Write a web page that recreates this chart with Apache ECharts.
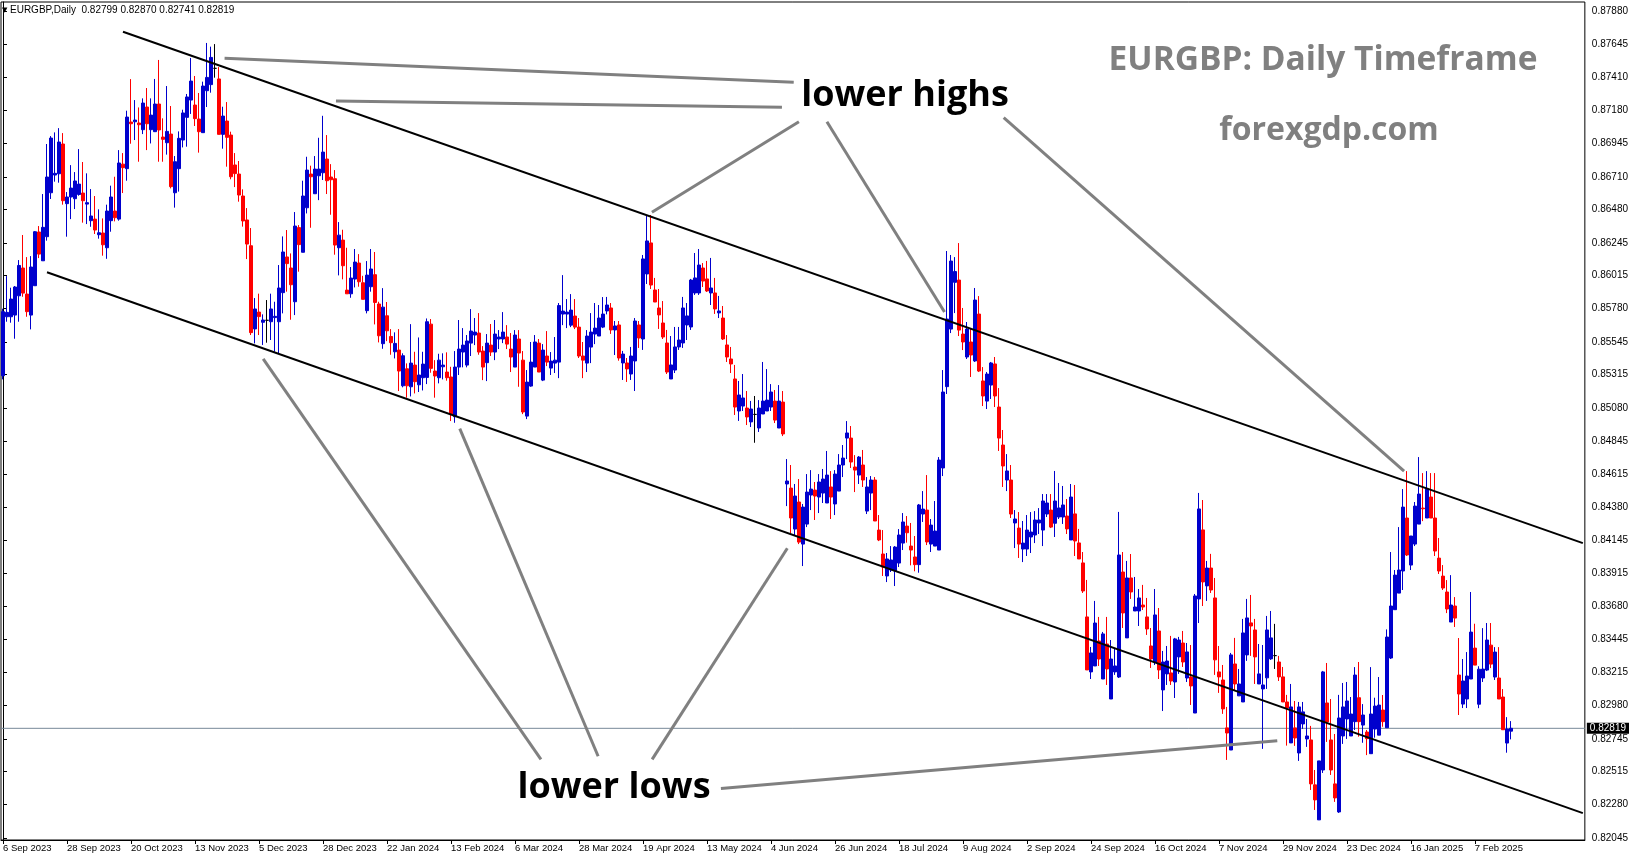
<!DOCTYPE html>
<html><head><meta charset="utf-8">
<script src="https://cdn.jsdelivr.net/npm/echarts@6/dist/echarts.min.js"></script>
<style>html,body{margin:0;padding:0;background:#fff}#c{width:1631px;height:861px}</style>
</head><body><div id="c"></div>
<script>
// ---------------- DATA ----------------
const symbolName = 'EURGBP,Daily';
const firstDate = [2023, 8, 6];           // 6 Sep 2023 (month 0-based)
const holidays = ['12-25', '01-01'];      // broker closed days
const monthNames = ['Jan','Feb','Mar','Apr','May','Jun','Jul','Aug','Sep','Oct','Nov','Dec'];
const slotCount = 396;                    // bars + right chart shift
const labelEvery = 16;

const opens = [
0.85307,0.85723,0.85723,0.85735,0.85871,0.86067,0.85883,0.85735,0.85942,0.86321,
0.86118,0.86288,0.86598,0.86723,0.86732,0.86942,0.86521,0.86568,0.86556,0.86586,
0.86596,0.86518,0.86401,0.86412,0.86302,0.86314,0.86210,0.86401,0.86469,0.86412,
0.86800,0.86768,0.87097,0.87099,0.87090,0.87043,0.87203,0.87043,0.87029,0.87224,
0.86991,0.86951,0.87012,0.86598,0.86768,0.86970,0.87130,0.87252,0.87217,0.87118,
0.87022,0.87318,0.87361,0.87476,0.87401,0.87010,0.87104,0.87005,0.86794,0.86730,
0.86575,0.86406,0.86224,0.85637,0.85756,0.85684,0.85698,0.85688,0.85717,0.85688,
0.85893,0.86145,0.86067,0.85829,0.86352,0.86178,0.86492,0.86730,0.86591,0.86718,
0.86739,0.86836,0.86709,0.86697,0.86210,0.86264,0.85911,0.85885,0.85989,0.86102,
0.85963,0.85766,0.85935,0.86020,0.85813,0.85533,0.85730,0.85584,0.85476,0.85488,
0.85236,0.85356,0.85229,0.85382,0.85243,0.85293,0.85295,0.85671,0.85340,0.85293,
0.85370,0.85333,0.85298,0.85018,0.85368,0.85474,0.85382,0.85537,0.85594,0.85608,
0.85481,0.85399,0.85523,0.85474,0.85566,0.85566,0.85580,0.85495,0.85368,0.85566,
0.85417,0.85022,0.85234,0.85368,0.85537,0.85276,0.85446,0.85361,0.85396,0.85403,
0.85742,0.85742,0.85664,0.85728,0.85650,0.85446,0.85396,0.85509,0.85601,0.85587,
0.85650,0.85764,0.85785,0.85630,0.85665,0.85397,0.85397,0.85319,0.85411,0.85665,
0.85566,0.86025,0.86244,0.85912,0.85785,0.85679,0.85538,0.85284,0.85347,0.85510,
0.85538,0.85665,0.85651,0.85891,0.85891,0.86067,0.85990,0.85891,0.85891,0.85750,
0.85714,0.85524,0.85425,0.85284,0.85058,0.85093,0.85079,0.84981,0.85034,0.84938,
0.85037,0.85058,0.85086,0.85128,0.84938,0.85121,0.84543,0.84514,0.84225,0.84416,
0.84119,0.84260,0.84465,0.84500,0.84451,0.84479,0.84409,0.84522,0.84402,0.84493,
0.84677,0.84867,0.84867,0.84663,0.84606,0.84677,0.84352,0.84479,0.84571,0.84218,
0.84049,0.83894,0.83936,0.83929,0.83985,0.84126,0.84246,0.84105,0.84028,0.83974,
0.84331,0.84359,0.84119,0.84105,0.84077,0.84656,0.85230,0.85636,0.85966,0.85982,
0.85601,0.85439,0.85545,0.85411,0.85742,0.85270,0.85128,0.85241,0.85390,0.85086,
0.84818,0.84571,0.84571,0.84268,0.84232,0.84084,0.84084,0.84169,0.84183,0.84268,
0.84218,0.84331,0.84359,0.84266,0.84310,0.84310,0.84317,0.84148,0.84332,0.84127,
0.83986,0.83605,0.83217,0.83259,0.83435,0.83167,0.83414,0.83026,0.83217,0.83181,
0.83922,0.83457,0.83880,0.83647,0.83647,0.83689,0.83605,0.83400,0.83287,0.83506,
0.83090,0.83203,0.83210,0.83146,0.83323,0.83421,0.83174,0.83181,0.82927,0.83732,
0.84219,0.83824,0.83950,0.83739,0.83217,0.83160,0.82822,0.82666,0.83273,0.83048,
0.83005,0.83337,0.83563,0.83513,0.83132,0.83097,0.83175,0.83309,0.83332,0.83287,
0.83182,0.83005,0.82716,0.82822,0.82645,0.82850,0.82744,0.82737,0.82420,0.82173,
0.82525,0.82998,0.82737,0.82427,0.82229,0.82765,0.82885,0.82765,0.82866,0.83035,
0.82842,0.82793,0.82640,0.82814,0.82771,0.82948,0.82823,0.83315,0.83656,0.83773,
0.83929,0.84303,0.83971,0.84119,0.84260,0.84373,0.84303,0.84451,0.84303,0.84020,
0.83893,0.83781,0.83569,0.83682,0.83195,0.82990,0.83026,0.83167,0.83385,0.82989,
0.83174,0.83230,0.83406,0.83181,0.83174,0.83040,0.82715,0.82799];

const highs = [
0.85780,0.86010,0.85928,0.85940,0.86123,0.86300,0.86144,0.86151,0.86328,0.86363,
0.86589,0.86942,0.86998,0.87024,0.87054,0.87019,0.86603,0.86793,0.86744,0.86906,
0.86815,0.86735,0.86624,0.86575,0.86481,0.86417,0.86514,0.86648,0.86711,0.86899,
0.86878,0.87177,0.87400,0.87252,0.87200,0.87264,0.87337,0.87264,0.87401,0.87535,
0.87123,0.87351,0.87210,0.86857,0.87031,0.87184,0.87295,0.87549,0.87422,0.87302,
0.87382,0.87655,0.87629,0.87647,0.87485,0.87205,0.87238,0.87029,0.86878,0.86822,
0.86622,0.86490,0.86349,0.85855,0.85886,0.85740,0.85841,0.85886,0.85829,0.86088,
0.86290,0.86335,0.86170,0.86462,0.86370,0.86683,0.86852,0.86789,0.86857,0.86986,
0.87141,0.87005,0.86800,0.86758,0.86391,0.86337,0.86210,0.86074,0.86201,0.86165,
0.86012,0.86116,0.86201,0.86180,0.85829,0.85925,0.85827,0.85636,0.85613,0.85636,
0.85465,0.85394,0.85671,0.85476,0.85577,0.85476,0.85711,0.85707,0.85417,0.85462,
0.85465,0.85472,0.85370,0.85481,0.85700,0.85643,0.85594,0.85777,0.85714,0.85749,
0.85516,0.85601,0.85672,0.85700,0.85629,0.85756,0.85664,0.85608,0.85629,0.85629,
0.85481,0.85347,0.85545,0.85594,0.85566,0.85530,0.85622,0.85474,0.85580,0.85820,
0.86017,0.85848,0.85883,0.85848,0.85714,0.85545,0.85629,0.85749,0.85820,0.85806,
0.85862,0.85863,0.85820,0.85693,0.85693,0.85482,0.85432,0.85510,0.85714,0.85693,
0.86159,0.86434,0.86441,0.85997,0.85919,0.85834,0.85630,0.85587,0.85651,0.85651,
0.85863,0.85820,0.85990,0.86173,0.86201,0.86102,0.86117,0.86138,0.85997,0.85870,
0.85799,0.85594,0.85510,0.85383,0.85270,0.85319,0.85199,0.85129,0.85164,0.85135,
0.85404,0.85354,0.85248,0.85206,0.85241,0.85199,0.84719,0.84677,0.84543,0.84578,
0.84402,0.84613,0.84641,0.84557,0.84613,0.84649,0.84776,0.84634,0.84641,0.84754,
0.84818,0.84987,0.84952,0.84747,0.84740,0.84783,0.84592,0.84599,0.84592,0.84324,
0.84218,0.84056,0.84105,0.84105,0.84225,0.84338,0.84317,0.84268,0.84176,0.84402,
0.84493,0.84606,0.84296,0.84423,0.84733,0.85347,0.86187,0.86159,0.86144,0.86243,
0.85785,0.85686,0.85644,0.85926,0.85869,0.85368,0.85333,0.85404,0.85439,0.85220,
0.84924,0.84754,0.84677,0.84359,0.84345,0.84282,0.84324,0.84345,0.84352,0.84373,
0.84472,0.84472,0.84472,0.84635,0.84550,0.84529,0.84437,0.84543,0.84536,0.84226,
0.84063,0.83866,0.83393,0.83718,0.83605,0.83499,0.83605,0.83442,0.83386,0.84346,
0.84063,0.84000,0.84049,0.83887,0.83802,0.83831,0.83739,0.83527,0.83802,0.83668,
0.83365,0.83400,0.83471,0.83457,0.83464,0.83506,0.83421,0.83407,0.83767,0.84480,
0.84430,0.84000,0.84050,0.83880,0.83400,0.83266,0.82970,0.83351,0.83457,0.83238,
0.83591,0.83732,0.83760,0.83591,0.83414,0.83407,0.83612,0.83647,0.83556,0.83330,
0.83252,0.83055,0.83132,0.83012,0.83005,0.83005,0.82885,0.82836,0.82525,0.82589,
0.83224,0.83280,0.83026,0.82779,0.83055,0.83139,0.83146,0.83040,0.83251,0.83287,
0.82990,0.82807,0.83251,0.83035,0.83181,0.83054,0.83517,0.84063,0.83936,0.84239,
0.84507,0.84634,0.84176,0.84416,0.84733,0.84620,0.84634,0.84620,0.84620,0.84162,
0.83971,0.83865,0.83900,0.83745,0.83456,0.83308,0.83357,0.83781,0.83557,0.83257,
0.83526,0.83562,0.83562,0.83392,0.83392,0.83096,0.82898,0.82870];

const lows = [
0.85281,0.85688,0.85681,0.85568,0.85688,0.85864,0.85723,0.85634,0.85942,0.86137,
0.86118,0.86260,0.86554,0.86676,0.86669,0.86514,0.86288,0.86412,0.86483,0.86577,
0.86387,0.86377,0.86358,0.86307,0.86274,0.86154,0.86132,0.86323,0.86396,0.86401,
0.86596,0.86683,0.86944,0.86970,0.86817,0.87012,0.86899,0.86946,0.87027,0.86817,
0.86817,0.86867,0.86629,0.86493,0.86606,0.86918,0.86923,0.87154,0.87069,0.86881,
0.87022,0.87203,0.87304,0.87410,0.87010,0.86909,0.86782,0.86693,0.86638,0.86535,
0.86359,0.86130,0.85594,0.85535,0.85594,0.85524,0.85540,0.85559,0.85477,0.85465,
0.85747,0.85900,0.85702,0.85735,0.86041,0.86178,0.86452,0.86351,0.86591,0.86546,
0.86688,0.86589,0.86443,0.86161,0.86015,0.85987,0.85885,0.85857,0.85930,0.85935,
0.85846,0.85747,0.85900,0.85669,0.85542,0.85497,0.85551,0.85455,0.85429,0.85199,
0.85225,0.85152,0.85161,0.85182,0.85192,0.85203,0.85248,0.85328,0.85152,0.85253,
0.85281,0.85272,0.84987,0.84975,0.85312,0.85366,0.85366,0.85446,0.85523,0.85455,
0.85276,0.85269,0.85446,0.85417,0.85495,0.85537,0.85495,0.85333,0.85368,0.85229,
0.85036,0.85001,0.85229,0.85368,0.85333,0.85269,0.85375,0.85312,0.85326,0.85290,
0.85664,0.85643,0.85650,0.85636,0.85432,0.85290,0.85333,0.85396,0.85530,0.85587,
0.85643,0.85740,0.85602,0.85453,0.85413,0.85277,0.85263,0.85277,0.85199,0.85503,
0.85489,0.85954,0.85919,0.85827,0.85637,0.85566,0.85319,0.85284,0.85326,0.85489,
0.85503,0.85559,0.85630,0.85877,0.85877,0.85933,0.85898,0.85806,0.85743,0.85714,
0.85559,0.85404,0.85326,0.85030,0.84988,0.85058,0.84959,0.84945,0.84834,0.84910,
0.85037,0.85058,0.85058,0.84973,0.84938,0.84881,0.84387,0.84197,0.84183,0.84119,
0.83964,0.84239,0.84359,0.84289,0.84338,0.84409,0.84409,0.84296,0.84324,0.84493,
0.84592,0.84719,0.84656,0.84486,0.84543,0.84522,0.84331,0.84359,0.84282,0.84140,
0.83894,0.83851,0.83922,0.83823,0.83957,0.84077,0.84129,0.83969,0.83927,0.83917,
0.84275,0.84112,0.84063,0.84105,0.84077,0.84599,0.85178,0.85608,0.85749,0.85587,
0.85488,0.85425,0.85298,0.85404,0.85333,0.85093,0.85072,0.85143,0.85086,0.84776,
0.84522,0.84493,0.84303,0.84091,0.84021,0.83992,0.84035,0.84056,0.84126,0.84190,
0.84105,0.84310,0.84232,0.84169,0.84296,0.84261,0.84190,0.84148,0.84035,0.84014,
0.83774,0.83231,0.83167,0.83259,0.83259,0.83167,0.83125,0.83026,0.83196,0.83174,
0.83527,0.83457,0.83732,0.83647,0.83541,0.83654,0.83478,0.83245,0.83266,0.83167,
0.82941,0.83125,0.83125,0.83033,0.83203,0.83252,0.83146,0.82984,0.82927,0.83562,
0.83682,0.83718,0.83774,0.83196,0.83069,0.82921,0.82596,0.82666,0.83083,0.83048,
0.83005,0.83295,0.83330,0.83132,0.83132,0.82674,0.83097,0.83302,0.83238,0.83153,
0.83005,0.82697,0.82716,0.82695,0.82589,0.82815,0.82688,0.82384,0.82243,0.82173,
0.82504,0.82723,0.82490,0.82300,0.82222,0.82709,0.82744,0.82765,0.82807,0.82760,
0.82717,0.82630,0.82640,0.82753,0.82771,0.82830,0.82823,0.83308,0.83656,0.83773,
0.83795,0.84035,0.83936,0.84105,0.84260,0.84281,0.84303,0.84303,0.84035,0.83908,
0.83795,0.83632,0.83569,0.83534,0.82913,0.82962,0.82962,0.83167,0.83265,0.82961,
0.83146,0.83223,0.83244,0.83160,0.83026,0.82809,0.82647,0.82741];

const closes = [
0.85759,0.85754,0.85848,0.85933,0.86085,0.85890,0.85759,0.86074,0.86323,0.86165,
0.86354,0.86709,0.86984,0.86735,0.86956,0.86542,0.86568,0.86631,0.86681,0.86659,
0.86542,0.86528,0.86434,0.86335,0.86316,0.86231,0.86469,0.86568,0.86422,0.86808,
0.86775,0.87132,0.87085,0.87111,0.87078,0.87231,0.87085,0.87146,0.87224,0.87041,
0.86975,0.87031,0.86641,0.86817,0.86982,0.87161,0.87274,0.87386,0.87121,0.87029,
0.87351,0.87412,0.87553,0.87476,0.87010,0.87139,0.86989,0.86711,0.86733,0.86582,
0.86399,0.86236,0.85611,0.85778,0.85724,0.85700,0.85698,0.85778,0.85726,0.85926,
0.86180,0.86098,0.85949,0.86363,0.86232,0.86575,0.86758,0.86711,0.86765,0.86765,
0.86885,0.86683,0.86690,0.86229,0.86299,0.86083,0.85885,0.85996,0.86109,0.85970,
0.85846,0.86017,0.86060,0.85824,0.85589,0.85791,0.85624,0.85540,0.85535,0.85340,
0.85448,0.85236,0.85396,0.85265,0.85312,0.85389,0.85688,0.85359,0.85305,0.85417,
0.85382,0.85293,0.85034,0.85368,0.85495,0.85523,0.85552,0.85622,0.85615,0.85474,
0.85368,0.85537,0.85474,0.85601,0.85580,0.85615,0.85530,0.85439,0.85594,0.85467,
0.85051,0.85262,0.85403,0.85545,0.85333,0.85488,0.85403,0.85410,0.85417,0.85802,
0.85763,0.85756,0.85770,0.85650,0.85446,0.85417,0.85587,0.85615,0.85643,0.85714,
0.85742,0.85806,0.85630,0.85658,0.85432,0.85460,0.85355,0.85446,0.85693,0.85573,
0.86131,0.86258,0.85947,0.85827,0.85736,0.85580,0.85333,0.85383,0.85510,0.85559,
0.85785,0.85729,0.85982,0.85997,0.86088,0.85975,0.85905,0.85926,0.85778,0.85764,
0.85566,0.85439,0.85390,0.85086,0.85171,0.85150,0.85016,0.85072,0.85034,0.85079,
0.85128,0.85135,0.85192,0.84994,0.85128,0.84896,0.84564,0.84303,0.84458,0.84133,
0.84380,0.84486,0.84507,0.84458,0.84557,0.84578,0.84606,0.84451,0.84613,0.84677,
0.84726,0.84903,0.84698,0.84641,0.84733,0.84571,0.84522,0.84571,0.84282,0.84148,
0.83957,0.84014,0.84007,0.84098,0.84183,0.84275,0.84199,0.84077,0.83974,0.84395,
0.84366,0.84134,0.84253,0.84211,0.84712,0.85192,0.85707,0.86116,0.86042,0.85629,
0.85545,0.85636,0.85453,0.85841,0.85340,0.85164,0.85319,0.85397,0.85164,0.84867,
0.84670,0.84635,0.84331,0.84296,0.84119,0.84126,0.84218,0.84204,0.84289,0.84289,
0.84423,0.84409,0.84239,0.84423,0.84374,0.84395,0.84226,0.84451,0.84141,0.84014,
0.83788,0.83231,0.83351,0.83562,0.83308,0.83485,0.83238,0.83308,0.83259,0.84042,
0.83633,0.83880,0.83781,0.83675,0.83739,0.83675,0.83520,0.83308,0.83619,0.83231,
0.83287,0.83294,0.83153,0.83450,0.83442,0.83287,0.83358,0.83118,0.83753,0.84367,
0.83852,0.83950,0.83795,0.83302,0.83182,0.82956,0.82786,0.83337,0.83132,0.83132,
0.83492,0.83598,0.83541,0.83323,0.83203,0.83125,0.83513,0.83457,0.83332,0.83182,
0.83005,0.82963,0.82970,0.82751,0.82970,0.82935,0.82765,0.82427,0.82314,0.82589,
0.83217,0.82864,0.82525,0.82328,0.82892,0.82970,0.83012,0.82920,0.83195,0.82866,
0.82913,0.82746,0.82920,0.82976,0.82983,0.82866,0.83463,0.83682,0.83900,0.83936,
0.84380,0.84042,0.84176,0.84387,0.84472,0.84368,0.84507,0.84303,0.84070,0.83929,
0.83809,0.83661,0.83689,0.83597,0.83061,0.83153,0.83188,0.83498,0.83265,0.83236,
0.83237,0.83442,0.83272,0.83357,0.83026,0.82809,0.82814,0.82819];

const priceTicks = [0.87880,0.87645,0.87410,0.87180,0.86945,0.86710,0.86480,0.86245,0.86015,0.85780,
0.85545,0.85315,0.85080,0.84845,0.84615,0.84380,0.84145,0.83915,0.83680,0.83445,0.83215,0.82980,
0.82745,0.82515,0.82280,0.82045];
const priceMin = 0.82031, priceMax = 0.87944;

// channel lines: [bar index, price]
const upperChannel = [[30, 0.87734], [395, 0.84126]];
const lowerChannel = [[11, 0.86037], [395, 0.82221]];
// annotation pointers: [bar index, price]
const lowerHighPointers = [
  [[55.4, 0.87547], [197.7, 0.87378]],
  [[83.25, 0.87246], [194.75, 0.87202]],
  [[162.25, 0.86461], [199, 0.87099]],
  [[206, 0.87099], [235.4, 0.85757]],
  [[250.2, 0.87129], [350.3, 0.84633]]
];
const lowerLowPointers = [
  [[65.05, 0.85426], [134.5, 0.82600]],
  [[114.2, 0.84934], [148.8, 0.82622]],
  [[196.1, 0.84090], [162.3, 0.82600]],
  [[179.5, 0.82394], [318.6, 0.82732]]
];

// ---------------- BUILD ----------------
const categories = [];
(function () {
  const d = new Date(Date.UTC(firstDate[0], firstDate[1], firstDate[2]));
  while (categories.length < slotCount) {
    const wd = d.getUTCDay();
    const md = String(d.getUTCMonth() + 1).padStart(2, '0') + '-' + String(d.getUTCDate()).padStart(2, '0');
    if (wd !== 0 && wd !== 6 && holidays.indexOf(md) < 0) {
      categories.push(d.getUTCDate() + ' ' + monthNames[d.getUTCMonth()] + ' ' + d.getUTCFullYear());
    }
    d.setUTCDate(d.getUTCDate() + 1);
  }
})();

const n = opens.length;
const candles = opens.map((o, i) => [o, closes[i], lows[i], highs[i]]);
const last = n - 1;
const lastPrice = closes[last];
const labelInterval = (idx) => idx % labelEvery === 0 && idx < n;

function seg(points, color, width) {
  return { type: 'line', xAxisIndex: 1, yAxisIndex: 0, data: points, symbol: 'none', silent: true,
    animation: false, lineStyle: { color: color, width: width }, z: 4 };
}

const chart = echarts.init(document.getElementById('c'), null, { renderer: 'canvas' });
const smallFont = 'Liberation Sans';
const priceLineSeries = {
  type: 'line', xAxisIndex: 1, yAxisIndex: 0, symbol: 'none', silent: true, animation: false, z: 2,
  data: [[-0.5, lastPrice], [slotCount - 0.5, lastPrice]],
  lineStyle: { color: '#778899', width: 1 },
  endLabel: { show: true, distance: 2, formatter: () => lastPrice.toFixed(5), backgroundColor: '#000', color: '#fff',
    padding: [1, 3, 0, 3], fontSize: 10, fontFamily: smallFont }
};

const option = {
  animation: false,
  backgroundColor: '#ffffff',
  grid: { left: 1, top: 2, width: 1584, height: 838, show: true, borderColor: '#000', borderWidth: 1, backgroundColor: 'transparent' },
  xAxis: [
    { type: 'category', data: categories, boundaryGap: true,
      axisLine: { show: true, lineStyle: { color: '#000', width: 1 } },
      axisTick: { show: true, interval: labelInterval, alignWithLabel: true, length: 4, lineStyle: { color: '#000' } },
      axisLabel: { interval: labelInterval, align: 'left', margin: 3, color: '#000', fontSize: 9.5, fontFamily: smallFont },
      splitLine: { show: false } },
    { type: 'value', min: -0.5, max: slotCount - 0.5, show: false }
  ],
  yAxis: { type: 'value', position: 'right', min: priceMin, max: priceMax,
    axisLine: { show: true, lineStyle: { color: '#000' } },
    axisTick: { show: true, length: 4, customValues: priceTicks, lineStyle: { color: '#000' } },
    axisLabel: { customValues: priceTicks, formatter: v => v.toFixed(5), margin: 7, color: '#000', fontSize: 10, fontFamily: smallFont },
    splitLine: { show: false } },
  series: [
    priceLineSeries,
    { type: 'candlestick', xAxisIndex: 0, yAxisIndex: 0, data: candles, barWidth: 3, z: 3,
      itemStyle: { color: '#0000CD', color0: '#FF0000', borderColor: '#0000CD', borderColor0: '#FF0000', borderColorDoji: '#000000', borderWidth: 1 } },
    seg(upperChannel, '#000', 2),
    seg(lowerChannel, '#000', 2),
    ...lowerHighPointers.map(p => seg(p, '#808080', 3)),
    ...lowerLowPointers.map(p => seg(p, '#808080', 3))
  ],
  graphic: [
    { type: 'text', x: 2, y: 10, style: { text: '▼', fontSize: 7, fontFamily: 'DejaVu Sans', fill: '#000', verticalAlign: 'middle', textVerticalAlign: 'middle' } },
    { type: 'text', x: 10, y: 10, style: { text: symbolName + '  ' + [opens[last], highs[last], lows[last], closes[last]].map(v => v.toFixed(5)).join(' '),
        fontSize: 10, fontFamily: smallFont, fill: '#000', verticalAlign: 'middle', textVerticalAlign: 'middle' } },
    { type: 'text', x: 1323, y: 60, style: { text: 'EURGBP: Daily Timeframe', fontSize: 33.5, fontWeight: 'bold', fontFamily: 'Open Sans',
        fill: '#808080', align: 'center', textAlign: 'center', verticalAlign: 'middle', textVerticalAlign: 'middle' } },
    { type: 'text', x: 1329, y: 131, style: { text: 'forexgdp.com', fontSize: 32, fontWeight: 'bold', fontFamily: 'Open Sans',
        fill: '#808080', align: 'center', textAlign: 'center', verticalAlign: 'middle', textVerticalAlign: 'middle' } },
    { type: 'text', x: 905, y: 96, z: 10, style: { text: 'lower highs', fontSize: 36, fontWeight: 'bold', fontFamily: 'Open Sans',
        fill: '#000', align: 'center', textAlign: 'center', verticalAlign: 'middle', textVerticalAlign: 'middle' } },
    { type: 'text', x: 614, y: 788, z: 10, style: { text: 'lower lows', fontSize: 36, fontWeight: 'bold', fontFamily: 'Open Sans',
        fill: '#000', align: 'center', textAlign: 'center', verticalAlign: 'middle', textVerticalAlign: 'middle' } }
  ]
};
chart.setOption(option);
</script>
</body></html>
